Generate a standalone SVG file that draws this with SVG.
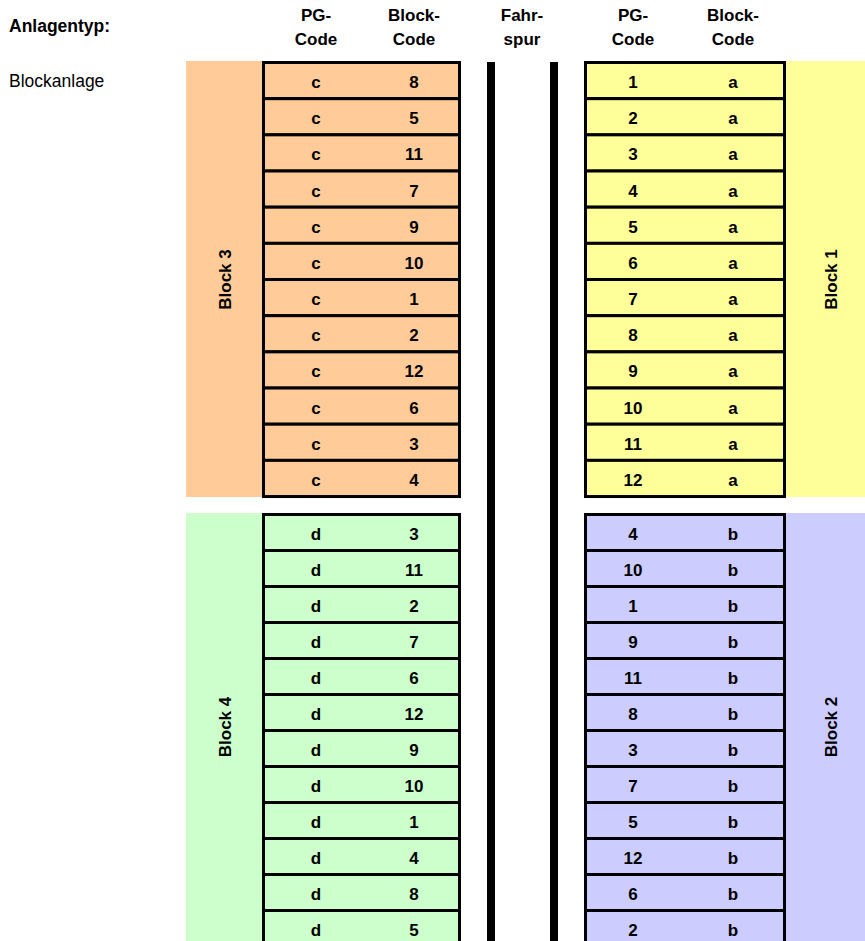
<svg xmlns="http://www.w3.org/2000/svg" width="865" height="941" viewBox="0 0 865 941">
<style>
text{font-family:"Liberation Sans",Arial,sans-serif;fill:#000}
.h{font-size:17px;font-weight:bold;text-anchor:middle}
.t{font-size:17px;font-weight:bold;text-anchor:middle}
.lb{font-size:17px;font-weight:bold;text-anchor:middle}
.row{stroke:#000;stroke-width:3}
.or{fill:#FFCC99}.ye{fill:#FFFF99}.gr{fill:#CCFFCC}.bl{fill:#CCCCFF}
</style>
<rect width="865" height="941" fill="#fff"/>
<g id="header">
<text x="9" y="32" style="font-size:17.5px;font-weight:bold">Anlagentyp:</text>
<text x="9" y="87" style="font-size:17.5px">Blockanlage</text>
<text class="h" x="316" y="21">PG-</text><text class="h" x="316" y="45">Code</text>
<text class="h" x="414" y="21">Block-</text><text class="h" x="414" y="45">Code</text>
<text class="h" x="522" y="21">Fahr-</text><text class="h" x="522" y="45">spur</text>
<text class="h" x="633" y="21">PG-</text><text class="h" x="633" y="45">Code</text>
<text class="h" x="733" y="21">Block-</text><text class="h" x="733" y="45">Code</text>
</g>
<g id="fahrspur">
<rect x="487" y="62" width="8" height="879" fill="#000"/>
<rect x="550" y="62" width="8" height="879" fill="#000"/>
</g>
<g id="block3">
<rect class="or" x="186" y="61" width="78" height="436"/>
<g class="row or">
<rect x="263.5" y="62.5" width="196" height="36.17"/>
<rect x="263.5" y="98.67" width="196" height="36.17"/>
<rect x="263.5" y="134.84" width="196" height="36.17"/>
<rect x="263.5" y="171.01" width="196" height="36.17"/>
<rect x="263.5" y="207.18" width="196" height="36.17"/>
<rect x="263.5" y="243.35" width="196" height="36.17"/>
<rect x="263.5" y="279.52" width="196" height="36.17"/>
<rect x="263.5" y="315.69" width="196" height="36.17"/>
<rect x="263.5" y="351.86" width="196" height="36.17"/>
<rect x="263.5" y="388.03" width="196" height="36.17"/>
<rect x="263.5" y="424.2" width="196" height="36.17"/>
<rect x="263.5" y="460.37" width="196" height="36.17"/>
</g>
<g class="t">
<text x="316" y="88">c</text><text x="414" y="88">8</text>
<text x="316" y="124.17">c</text><text x="414" y="124.17">5</text>
<text x="316" y="160.34">c</text><text x="414" y="160.34">11</text>
<text x="316" y="196.51">c</text><text x="414" y="196.51">7</text>
<text x="316" y="232.68">c</text><text x="414" y="232.68">9</text>
<text x="316" y="268.85">c</text><text x="414" y="268.85">10</text>
<text x="316" y="305.02">c</text><text x="414" y="305.02">1</text>
<text x="316" y="341.19">c</text><text x="414" y="341.19">2</text>
<text x="316" y="377.36">c</text><text x="414" y="377.36">12</text>
<text x="316" y="413.53">c</text><text x="414" y="413.53">6</text>
<text x="316" y="449.7">c</text><text x="414" y="449.7">3</text>
<text x="316" y="485.87">c</text><text x="414" y="485.87">4</text>
</g>
<text class="lb" transform="translate(231,279.5) rotate(-90)">Block 3</text>
</g>
<g id="block1">
<rect class="ye" x="785" y="61" width="80" height="436"/>
<g class="row ye">
<rect x="585.5" y="62.5" width="199" height="36.17"/>
<rect x="585.5" y="98.67" width="199" height="36.17"/>
<rect x="585.5" y="134.84" width="199" height="36.17"/>
<rect x="585.5" y="171.01" width="199" height="36.17"/>
<rect x="585.5" y="207.18" width="199" height="36.17"/>
<rect x="585.5" y="243.35" width="199" height="36.17"/>
<rect x="585.5" y="279.52" width="199" height="36.17"/>
<rect x="585.5" y="315.69" width="199" height="36.17"/>
<rect x="585.5" y="351.86" width="199" height="36.17"/>
<rect x="585.5" y="388.03" width="199" height="36.17"/>
<rect x="585.5" y="424.2" width="199" height="36.17"/>
<rect x="585.5" y="460.37" width="199" height="36.17"/>
</g>
<g class="t">
<text x="633" y="88">1</text><text x="733" y="88">a</text>
<text x="633" y="124.17">2</text><text x="733" y="124.17">a</text>
<text x="633" y="160.34">3</text><text x="733" y="160.34">a</text>
<text x="633" y="196.51">4</text><text x="733" y="196.51">a</text>
<text x="633" y="232.68">5</text><text x="733" y="232.68">a</text>
<text x="633" y="268.85">6</text><text x="733" y="268.85">a</text>
<text x="633" y="305.02">7</text><text x="733" y="305.02">a</text>
<text x="633" y="341.19">8</text><text x="733" y="341.19">a</text>
<text x="633" y="377.36">9</text><text x="733" y="377.36">a</text>
<text x="633" y="413.53">10</text><text x="733" y="413.53">a</text>
<text x="633" y="449.7">11</text><text x="733" y="449.7">a</text>
<text x="633" y="485.87">12</text><text x="733" y="485.87">a</text>
</g>
<text class="lb" transform="translate(837,279.5) rotate(-90)">Block 1</text>
</g>
<g id="block4">
<rect class="gr" x="186" y="513" width="78" height="428"/>
<g class="row gr">
<rect x="263.5" y="514.5" width="196" height="36"/>
<rect x="263.5" y="550.5" width="196" height="36"/>
<rect x="263.5" y="586.5" width="196" height="36"/>
<rect x="263.5" y="622.5" width="196" height="36"/>
<rect x="263.5" y="658.5" width="196" height="36"/>
<rect x="263.5" y="694.5" width="196" height="36"/>
<rect x="263.5" y="730.5" width="196" height="36"/>
<rect x="263.5" y="766.5" width="196" height="36"/>
<rect x="263.5" y="802.5" width="196" height="36"/>
<rect x="263.5" y="838.5" width="196" height="36"/>
<rect x="263.5" y="874.5" width="196" height="36"/>
<rect x="263.5" y="910.5" width="196" height="36"/>
</g>
<g class="t">
<text x="316" y="539.5">d</text><text x="414" y="539.5">3</text>
<text x="316" y="575.5">d</text><text x="414" y="575.5">11</text>
<text x="316" y="611.5">d</text><text x="414" y="611.5">2</text>
<text x="316" y="647.5">d</text><text x="414" y="647.5">7</text>
<text x="316" y="683.5">d</text><text x="414" y="683.5">6</text>
<text x="316" y="719.5">d</text><text x="414" y="719.5">12</text>
<text x="316" y="755.5">d</text><text x="414" y="755.5">9</text>
<text x="316" y="791.5">d</text><text x="414" y="791.5">10</text>
<text x="316" y="827.5">d</text><text x="414" y="827.5">1</text>
<text x="316" y="863.5">d</text><text x="414" y="863.5">4</text>
<text x="316" y="899.5">d</text><text x="414" y="899.5">8</text>
<text x="316" y="935.5">d</text><text x="414" y="935.5">5</text>
</g>
<text class="lb" transform="translate(231,727) rotate(-90)">Block 4</text>
</g>
<g id="block2">
<rect class="bl" x="785" y="513" width="80" height="428"/>
<g class="row bl">
<rect x="585.5" y="514.5" width="199" height="36"/>
<rect x="585.5" y="550.5" width="199" height="36"/>
<rect x="585.5" y="586.5" width="199" height="36"/>
<rect x="585.5" y="622.5" width="199" height="36"/>
<rect x="585.5" y="658.5" width="199" height="36"/>
<rect x="585.5" y="694.5" width="199" height="36"/>
<rect x="585.5" y="730.5" width="199" height="36"/>
<rect x="585.5" y="766.5" width="199" height="36"/>
<rect x="585.5" y="802.5" width="199" height="36"/>
<rect x="585.5" y="838.5" width="199" height="36"/>
<rect x="585.5" y="874.5" width="199" height="36"/>
<rect x="585.5" y="910.5" width="199" height="36"/>
</g>
<g class="t">
<text x="633" y="539.5">4</text><text x="733" y="539.5">b</text>
<text x="633" y="575.5">10</text><text x="733" y="575.5">b</text>
<text x="633" y="611.5">1</text><text x="733" y="611.5">b</text>
<text x="633" y="647.5">9</text><text x="733" y="647.5">b</text>
<text x="633" y="683.5">11</text><text x="733" y="683.5">b</text>
<text x="633" y="719.5">8</text><text x="733" y="719.5">b</text>
<text x="633" y="755.5">3</text><text x="733" y="755.5">b</text>
<text x="633" y="791.5">7</text><text x="733" y="791.5">b</text>
<text x="633" y="827.5">5</text><text x="733" y="827.5">b</text>
<text x="633" y="863.5">12</text><text x="733" y="863.5">b</text>
<text x="633" y="899.5">6</text><text x="733" y="899.5">b</text>
<text x="633" y="935.5">2</text><text x="733" y="935.5">b</text>
</g>
<text class="lb" transform="translate(837,727) rotate(-90)">Block 2</text>
</g>
</svg>
